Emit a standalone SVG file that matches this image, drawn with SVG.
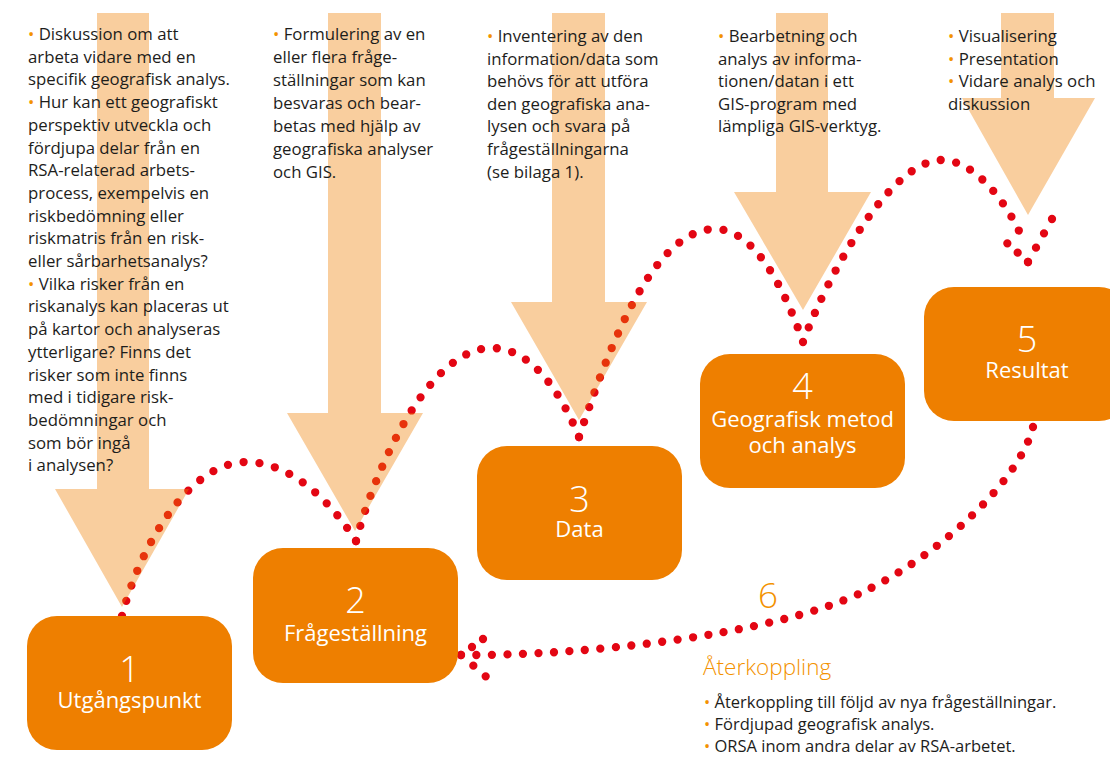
<svg xmlns="http://www.w3.org/2000/svg" width="1110" height="757" viewBox="0 0 1110 757">
<style>
text { font-family: "Open Sans", "Noto Sans", "DejaVu Sans", sans-serif; }
.desc { font-size: 16.8px; fill: #1d1d1b; }
.foot { font-size: 16.5px; fill: #1d1d1b; }
.b { fill: #F39200; }
.box { fill: #EE7F00; }
.arrow { fill: #EE7F00; fill-opacity: 0.38; }
.lab { fill: #ffffff; text-anchor: middle; font-size: 22px; }
.num { font-size: 36px; font-weight: 300; }
.dots { fill: none; stroke: #E30613; stroke-width: 8.3; stroke-linecap: round; stroke-dasharray: 0 1; }
.or { fill: #F39200; }
</style>
<rect width="1110" height="757" fill="#ffffff"/>
<g id="connectors">
  <path class="dots" pathLength="22" d="M122,616 C140,545 190,462 246,462 C290,462 330,500 356,541"/>
  <path class="dots" pathLength="24" d="M356,541 C372,480 425,348 492,348 C530,348 560,390 579,437"/>
  <path class="dots" pathLength="26" d="M579,437 C605,360 650,229 715,229 C755,229 785,290 803,342"/>
  <path class="dots" pathLength="23" d="M803,342 C828,275 890,160 942,160 C975,160 1010,205 1025,245"/>
  <path class="dots" pathLength="3" d="M1028,262 L997,234"/>
  <path class="dots" pathLength="3" d="M1028,262 L1052,219"/>
  <path class="dots" pathLength="42" d="M1033,427 C1020,480 940,555 863,592 C771,636 580,656 461,655"/>
  <path class="dots" pathLength="3" d="M461,655 L494,631"/>
  <path class="dots" pathLength="3" d="M461,655 L498,687"/>
</g>
<g id="step1">
  <polygon class="arrow" points="97,13 149,13 149,489 189,489 122,607 55,489 97,489"/>
  <text class="desc">
    <tspan x="28" y="40"><tspan class="b">•</tspan> Diskussion om att</tspan>
    <tspan x="28" y="62.7">arbeta vidare med en</tspan>
    <tspan x="28" y="85.4">specifik geografisk analys.</tspan>
    <tspan x="28" y="108.1"><tspan class="b">•</tspan> Hur kan ett geografiskt</tspan>
    <tspan x="28" y="130.8">perspektiv utveckla och</tspan>
    <tspan x="28" y="153.5">fördjupa delar från en</tspan>
    <tspan x="28" y="176.2">RSA-relaterad arbets-</tspan>
    <tspan x="28" y="198.9">process, exempelvis en</tspan>
    <tspan x="28" y="221.6">riskbedömning eller</tspan>
    <tspan x="28" y="244.3">riskmatris från en risk-</tspan>
    <tspan x="28" y="267">eller sårbarhetsanalys?</tspan>
    <tspan x="28" y="289.7"><tspan class="b">•</tspan> Vilka risker från en</tspan>
    <tspan x="28" y="312.4">riskanalys kan placeras ut</tspan>
    <tspan x="28" y="335.1">på kartor och analyseras</tspan>
    <tspan x="28" y="357.8">ytterligare? Finns det</tspan>
    <tspan x="28" y="380.5">risker som inte finns</tspan>
    <tspan x="28" y="403.2">med i tidigare risk-</tspan>
    <tspan x="28" y="425.9">bedömningar och</tspan>
    <tspan x="28" y="448.6">som bör ingå</tspan>
    <tspan x="28" y="471.3">i analysen?</tspan>
  </text>
  <rect class="box" x="27" y="616" width="205" height="134" rx="30"/>
  <text class="lab"><tspan class="num" x="129.5" y="682">1</tspan><tspan x="129.5" y="708">Utgångspunkt</tspan></text>
</g>
<g id="step2">
  <polygon class="arrow" points="328,13 381,13 381,413 423,413 355,531 287,413 328,413"/>
  <text class="desc">
    <tspan x="273" y="40"><tspan class="b">•</tspan> Formulering av en</tspan>
    <tspan x="273" y="63">eller flera fråge-</tspan>
    <tspan x="273" y="86">ställningar som kan</tspan>
    <tspan x="273" y="109">besvaras och bear-</tspan>
    <tspan x="273" y="132">betas med hjälp av</tspan>
    <tspan x="273" y="155">geografiska analyser</tspan>
    <tspan x="273" y="178">och GIS.</tspan>
  </text>
  <rect class="box" x="253" y="548" width="205" height="135" rx="30"/>
  <text class="lab"><tspan class="num" x="355.5" y="613">2</tspan><tspan x="355.5" y="641">Frågeställning</tspan></text>
</g>
<g id="step3">
  <polygon class="arrow" points="552,13 605,13 605,302 647,302 579,420 511,302 552,302"/>
  <text class="desc">
    <tspan x="487" y="42"><tspan class="b">•</tspan> Inventering av den</tspan>
    <tspan x="487" y="64.6">information/data som</tspan>
    <tspan x="487" y="87.2">behövs för att utföra</tspan>
    <tspan x="487" y="109.8">den geografiska ana-</tspan>
    <tspan x="487" y="132.4">lysen och svara på</tspan>
    <tspan x="487" y="155">frågeställningarna</tspan>
    <tspan x="487" y="177.6">(se bilaga 1).</tspan>
  </text>
  <rect class="box" x="477" y="446" width="205" height="134" rx="30"/>
  <text class="lab"><tspan class="num" x="579.5" y="512">3</tspan><tspan x="579.5" y="537">Data</tspan></text>
</g>
<g id="step4">
  <polygon class="arrow" points="776,13 828,13 828,192 871,192 803,310 734,192 776,192"/>
  <text class="desc">
    <tspan x="718" y="42"><tspan class="b">•</tspan> Bearbetning och</tspan>
    <tspan x="718" y="64.6">analys av informa-</tspan>
    <tspan x="718" y="87.2">tionen/datan i ett</tspan>
    <tspan x="718" y="109.8">GIS-program med</tspan>
    <tspan x="718" y="132.4">lämpliga GIS-verktyg.</tspan>
  </text>
  <rect class="box" x="700" y="354" width="205" height="134" rx="30"/>
  <text class="lab"><tspan class="num" x="802.5" y="399">4</tspan><tspan x="802.5" y="427">Geografisk metod</tspan><tspan x="802.5" y="453">och analys</tspan></text>
</g>
<g id="step5">
  <polygon class="arrow" points="1001,13 1054,13 1054,98 1095,98 1028,215 962,98 1001,98"/>
  <text class="desc">
    <tspan x="948" y="42"><tspan class="b">•</tspan> Visualisering</tspan>
    <tspan x="948" y="64.6"><tspan class="b">•</tspan> Presentation</tspan>
    <tspan x="948" y="87.2"><tspan class="b">•</tspan> Vidare analys och</tspan>
    <tspan x="948" y="109.8">diskussion</tspan>
  </text>
  <rect class="box" x="924" y="287" width="205" height="134" rx="30"/>
  <text class="lab"><tspan class="num" x="1027" y="352">5</tspan><tspan x="1027" y="378">Resultat</tspan></text>
</g>
<g id="step6">
  <text class="or" x="768" y="608" font-size="35" font-weight="300" text-anchor="middle">6</text>
  <text class="or" x="703" y="675" font-size="22.5" font-weight="300">Återkoppling</text>
  <text class="foot">
    <tspan x="704" y="708"><tspan class="b">•</tspan> Återkoppling till följd av nya frågeställningar.</tspan>
    <tspan x="704" y="730"><tspan class="b">•</tspan> Fördjupad geografisk analys.</tspan>
    <tspan x="704" y="752"><tspan class="b">•</tspan> ORSA inom andra delar av RSA-arbetet.</tspan>
  </text>
</g>
</svg>
